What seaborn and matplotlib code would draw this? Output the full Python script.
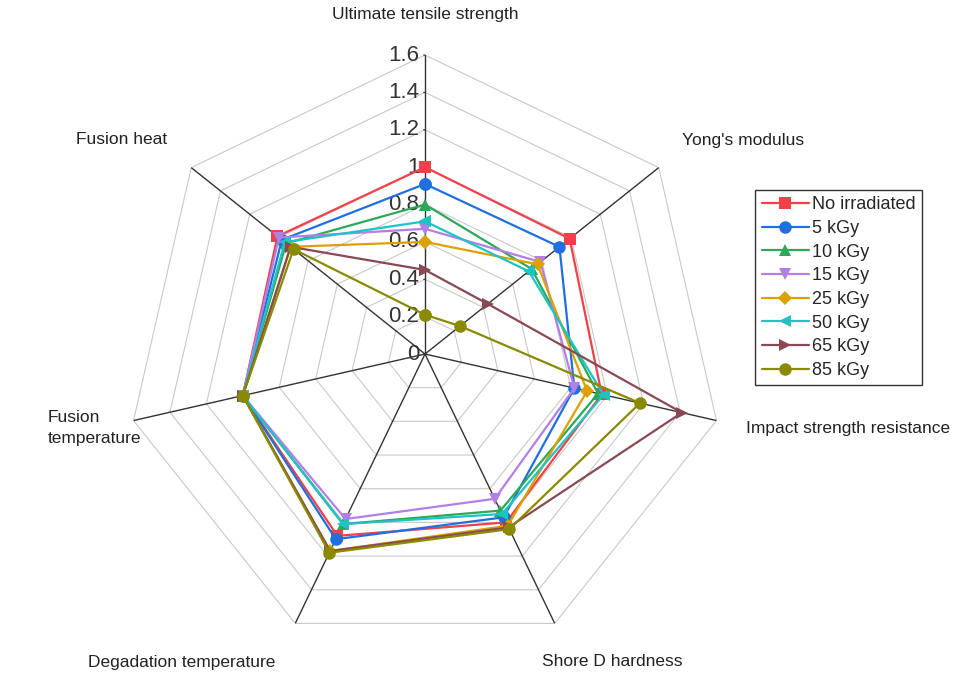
import numpy as np
import pandas as pd
import matplotlib
matplotlib.use("Agg")
import matplotlib.pyplot as plt
import seaborn as sns

# Radar axes, clockwise from the top
categories = ["Ultimate tensile strength", "Yong's modulus", "Impact strength resistance",
              "Shore D hardness", "Degadation temperature", "Fusion\ntemperature", "Fusion heat"]

# Normalised values for each dose
no_irr = [1.00, 0.99, 0.97, 1.00, 1.08, 1.00, 1.01]
kgy_5 = [0.91, 0.92, 0.82, 0.97, 1.10, 1.00, 0.98]
kgy_10 = [0.80, 0.73, 0.95, 0.93, 1.01, 1.00, 0.95]
kgy_15 = [0.67, 0.79, 0.82, 0.86, 0.98, 1.00, 1.00]
kgy_25 = [0.60, 0.77, 0.89, 1.02, 1.17, 1.00, 0.92]
kgy_50 = [0.71, 0.71, 0.98, 0.95, 1.01, 1.00, 0.96]
kgy_65 = [0.45, 0.43, 1.41, 1.03, 1.17, 1.00, 0.92]
kgy_85 = [0.21, 0.24, 1.18, 1.04, 1.18, 1.00, 0.90]

series_names = ["No irradiated", "5 kGy", "10 kGy", "15 kGy", "25 kGy", "50 kGy", "65 kGy", "85 kGy"]
series_values = [no_irr, kgy_5, kgy_10, kgy_15, kgy_25, kgy_50, kgy_65, kgy_85]
r_ticks = [0, 0.2, 0.4, 0.6, 0.8, 1, 1.2, 1.4, 1.6]
r_tick_labels = ["0", "0.2", "0.4", "0.6", "0.8", "1", "1.2", "1.4", "1.6"]

colors = ["#EF4149", "#1F6FE0", "#2BA85A", "#B27FE6", "#DCA000", "#1CC4C4", "#8A4853", "#8A8A00"]
markers = ["s", "o", "^", "v", "D", "<", ">", "o"]
msizes = [8, 9, 8, 8, 7, 8, 8, 9]

sns.set_theme(style="white")
plt.rcParams["font.family"] = ["Liberation Sans", "DejaVu Sans"]

n = len(categories)
angles = np.arange(n) * 2 * np.pi / n
angles_closed = np.append(angles, 2 * np.pi)

fig = plt.figure(figsize=(9.61, 6.76), dpi=100)
ax = fig.add_axes([0.1311, 0.034, 0.6223, 0.8846], projection="polar")
ax.set_theta_offset(np.pi / 2)
ax.set_theta_direction(-1)
ax.set_ylim(0, 1.6)
ax.grid(False)
ax.spines["polar"].set_visible(False)
ax.patch.set_alpha(0)

# heptagon grid
for r in r_ticks[1:]:
    ax.plot(angles_closed, [r] * (n + 1), color="#C9C9C9", lw=0.8, zorder=1)
# spokes
for a in angles:
    ax.plot([a, a], [0, 1.6], color="#333333", lw=1.0, zorder=2)

# radial tick labels on the top spoke
for v, lab in zip(r_ticks, r_tick_labels):
    ax.annotate(lab, xy=(0, v), xytext=(-4, 0), textcoords="offset points",
                ha="right", va="center", fontsize=16, color="#333333", zorder=3)
    ax.annotate("", xy=(0, v), xytext=(-3, 0), textcoords="offset points",
                arrowprops=dict(arrowstyle="-", color="#333333", lw=0.8))

for name, vals, c, m, ms in zip(series_names, series_values, colors, markers, msizes):
    df = pd.DataFrame({"theta": angles_closed, "r": vals + vals[:1]})
    sns.lineplot(data=df, x="theta", y="r", ax=ax, sort=False, estimator=None,
                 color=c, lw=1.6, marker=m, markersize=ms, markeredgewidth=0,
                 label=name, zorder=4)

ax.set_xlabel("")
ax.set_ylabel("")
ax.set_xticks([])
ax.set_yticks([])
ax.set_ylim(0, 1.6)

handles, labels = ax.get_legend_handles_labels()
ax.legend_.remove()
leg = fig.legend(handles, labels, loc="upper left", bbox_to_anchor=(0.786, 0.719),
                 borderaxespad=0, frameon=True, fancybox=False, edgecolor="black",
                 fontsize=13, handlelength=2.6, labelspacing=0.37, borderpad=0.35,
                 handletextpad=0.2)
leg.get_frame().set_linewidth(1.0)

W, H = 961, 676
label_pos = [(425, 15, "center"), (743, 140, "center"), (848, 428, "center"),
             (612, 662, "center"), (182, 662, "center"), (48, 428, "left"), (122, 140, "center")]
for (x, y, ha), cat in zip(label_pos, categories):
    fig.text(x / W, 1 - y / H, cat, ha=ha, va="center", fontsize=12.5, color="#222222",
             linespacing=1.5)

plt.savefig("out.png", dpi=100)
plt.close()
